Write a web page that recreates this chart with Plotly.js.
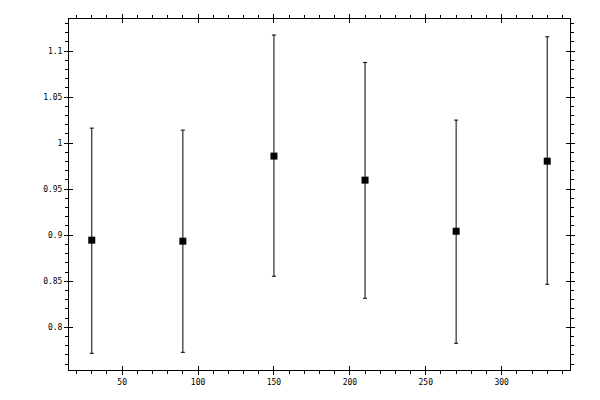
<!DOCTYPE html>
<html><head><meta charset="utf-8">
<script src="https://cdn.plot.ly/plotly-3.0.1.min.js"></script>
<style>html,body{margin:0;padding:0;background:#fff}#plot{width:600px;height:400px}</style>
</head><body><div id="plot"></div>
<script>
var angles = [30, 90, 150, 210, 270, 330];
var values = [0.8946, 0.8935, 0.9859, 0.9598, 0.9043, 0.9804];
var errPlus = [0.1217, 0.1206, 0.1315, 0.1278, 0.1207, 0.1351];
var errMinus = [0.1229, 0.1207, 0.1305, 0.1283, 0.1217, 0.1337];

var xRange = [15, 345];
var yRange = [0.7536, 1.1348];
var tickFont = {family: 'DejaVu Sans Mono, monospace', size: 8, color: '#000'};

var data = [{
  type: 'scatter', mode: 'markers', x: angles, y: values,
  marker: {symbol: 'square', size: 7, color: '#000'},
  error_y: {type: 'data', symmetric: false, array: errPlus, arrayminus: errMinus,
            color: '#000', thickness: 1, width: 2},
  showlegend: false, hoverinfo: 'none'
}, {
  type: 'scatter', mode: 'markers', x: [], y: [], xaxis: 'x2', yaxis: 'y2',
  showlegend: false, hoverinfo: 'none'
}];

var layout = {
  width: 600, height: 400,
  margin: {l: 69, r: 30, t: 19, b: 30},
  paper_bgcolor: '#fff', plot_bgcolor: '#fff',
  xaxis: {range: xRange, showgrid: false, zeroline: false, showline: true, linecolor: '#000', linewidth: 1,
    mirror: 'allticks', ticks: 'outside', ticklen: 4, tickwidth: 1, tickcolor: '#000',
    tick0: 0, dtick: 50, tickfont: tickFont,
    minor: {ticks: 'outside', ticklen: 3, tickwidth: 1, tickcolor: '#000', dtick: 10, tick0: 0, showgrid: false}},
  yaxis: {range: yRange, showgrid: false, zeroline: false, showline: true, linecolor: '#000', linewidth: 1,
    mirror: 'allticks', ticks: 'outside', ticklen: 4, tickwidth: 1, tickcolor: '#000',
    tick0: 0, dtick: 0.05, tickfont: tickFont,
    minor: {ticks: 'outside', ticklen: 3, tickwidth: 1, tickcolor: '#000', dtick: 0.01, tick0: 0, showgrid: false}},
  xaxis2: {range: xRange, overlaying: 'x', anchor: 'y2', showgrid: false, zeroline: false, showline: false,
    mirror: 'ticks', ticks: 'inside', ticklen: 4, tickwidth: 1, tickcolor: '#000',
    tick0: 0, dtick: 50, showticklabels: false},
  yaxis2: {range: yRange, overlaying: 'y', anchor: 'x2', showgrid: false, zeroline: false, showline: false,
    mirror: 'ticks', ticks: 'inside', ticklen: 4, tickwidth: 1, tickcolor: '#000',
    tick0: 0, dtick: 0.05, showticklabels: false}
};

Plotly.newPlot('plot', data, layout, {staticPlot: true, displayModeBar: false});
</script></body></html>
